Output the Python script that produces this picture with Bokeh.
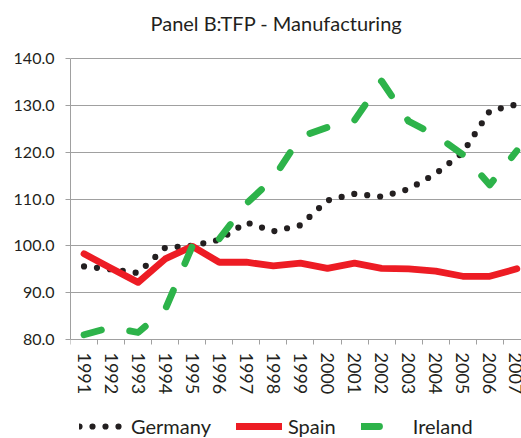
import math
from bokeh.plotting import figure
from bokeh.models import (Range1d, FixedTicker, PrintfTickFormatter, Legend, LegendItem, Label)
from bokeh.embed import file_html
from bokeh.resources import INLINE

years = list(range(1991, 2008))
germany = [95.6, 95.0, 94.2, 99.6, 100.0, 101.3, 105.0, 103.1, 104.4, 109.7,
           111.1, 110.5, 112.1, 115.4, 119.9, 128.8, 130.2]
spain = [98.3, 95.2, 92.2, 97.2, 99.9, 96.5, 96.5, 95.7, 96.3, 95.2,
         96.3, 95.2, 95.1, 94.6, 93.5, 93.5, 95.1]
ireland = [81.0, 82.6, 81.5, 86.4, 99.9, 101.5, 109.0, 114.4, 123.3, 125.3,
           126.8, 135.2, 126.6, 123.6, 119.5, 113.0, 120.3]
y_ticks = [80, 90, 100, 110, 120, 130, 140]
title_text = "Panel B:TFP - Manufacturing"

FONT = "Lato"
TXT = "#231f20"
GRID = "#a0a0a0"

W, H = 521, 438
LEFT = 70           # frame left edge (px)
Y_TOP_PX = 58       # pixel row of the top tick
Y_BOT_PX = 339      # pixel row of the bottom tick
CAT_PX = 27.05      # pixel width of one category

# the frame covers the full height; range extended so ticks land on the right rows
upp = (y_ticks[-1] - y_ticks[0]) / (Y_BOT_PX - Y_TOP_PX)
y_start = y_ticks[0] - (H - Y_BOT_PX) * upp
y_end = y_ticks[-1] + Y_TOP_PX * upp
x_start = years[0] - 0.5
x_end = x_start + (W - LEFT) / CAT_PX

p = figure(width=W, height=H, output_backend="svg", toolbar_location=None,
           x_range=Range1d(x_start, x_end), y_range=Range1d(y_start, y_end),
           min_border_left=LEFT, min_border_right=0, min_border_top=0, min_border_bottom=0)
p.outline_line_color = None
p.background_fill_color = "white"
p.border_fill_color = "white"

# x axis drawn at the bottom tick value
p.xaxis.fixed_location = y_ticks[0]
p.xaxis.ticker = FixedTicker(ticks=years, minor_ticks=[y - 0.5 for y in years] + [years[-1] + 0.5])
p.xaxis.major_tick_line_color = None
p.xaxis.minor_tick_line_color = GRID
p.xaxis.minor_tick_in = 0
p.xaxis.minor_tick_out = 5
p.xaxis.axis_line_color = GRID
p.xaxis.major_label_orientation = -math.pi / 2
p.xaxis.major_label_standoff = 7
p.xaxis.major_label_text_font = FONT
p.xaxis.major_label_text_font_size = "18px"
p.xaxis.major_label_text_color = TXT
p.xaxis.major_label_overrides = {y: str(y) for y in years}

# y axis
p.yaxis.ticker = FixedTicker(ticks=y_ticks)
p.yaxis.bounds = (y_ticks[0], y_ticks[-1])
p.yaxis.formatter = PrintfTickFormatter(format="%.1f")
p.yaxis.major_tick_line_color = GRID
p.yaxis.major_tick_in = 0
p.yaxis.major_tick_out = 5
p.yaxis.minor_tick_line_color = None
p.yaxis.axis_line_color = GRID
p.yaxis.major_label_standoff = 11
p.yaxis.major_label_text_font = FONT
p.yaxis.major_label_text_font_size = "16px"
p.yaxis.major_label_text_color = TXT

p.xgrid.grid_line_color = None
p.ygrid.grid_line_color = GRID
p.ygrid.grid_line_width = 1.2

r_g = p.line(years, germany, line_color="#231f20", line_width=6.2, line_dash="0 13",
             line_cap="round")
r_s = p.line(years, spain, line_color="#ed1c24", line_width=6.8, line_join="round",
             line_cap="round")
r_i = p.line(years, ireland, line_color="#2db34a", line_width=6.8, line_dash="18 29",
             line_cap="round", line_join="round")

title = Label(text=title_text, x=80, y=H - 22, x_units="screen", y_units="screen",
              text_font=FONT, text_font_size="20px", text_color=TXT,
              text_baseline="alphabetic", text_align="left")
p.add_layout(title)

legend = Legend(items=[LegendItem(label="Germany", renderers=[r_g]),
                       LegendItem(label="Spain", renderers=[r_s]),
                       LegendItem(label="Ireland", renderers=[r_i])],
                orientation="horizontal", location=(9, 0),
                spacing=25, label_standoff=6, glyph_width=46, glyph_height=20,
                label_height=20, padding=0, margin=0,
                border_line_color=None, background_fill_alpha=0,
                label_text_font=FONT, label_text_font_size="20px",
                label_text_color=TXT)
p.add_layout(legend)

open("out.html", "w").write(file_html(p, INLINE))
